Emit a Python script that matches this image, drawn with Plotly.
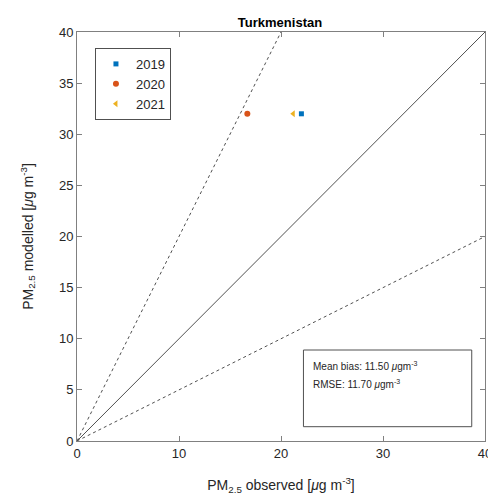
import plotly.graph_objects as go

years = ["2019", "2020", "2021"]
observed = [22.0, 16.7, 21.2]
modelled = [32.0, 32.0, 32.0]
colors = ["#0072BD", "#D95319", "#EDB120"]
symbols = ["square", "circle", "triangle-left"]
sizes = [5, 6, 6]

ref_x = [0, 40]
ref_1to1 = [0, 40]
ref_2x_x = [0, 20]
ref_2x_y = [0, 40]
ref_half_y = [0, 20]

stats_lines = ["Mean bias: 11.50 <i>μ</i>gm<sup>-3</sup>", "RMSE: 11.70 <i>μ</i>gm<sup>-3</sup>"]
ticks_x = [0, 10, 20, 30, 40]
ticks_y = [0, 5, 10, 15, 20, 25, 30, 35, 40]

fig = go.Figure()
fig.add_trace(go.Scatter(x=ref_x, y=ref_1to1, mode="lines", line=dict(color="#505050", width=1), showlegend=False, hoverinfo="skip"))
fig.add_trace(go.Scatter(x=ref_2x_x, y=ref_2x_y, mode="lines", line=dict(color="#505050", width=1, dash="dot"), showlegend=False, hoverinfo="skip"))
fig.add_trace(go.Scatter(x=ref_x, y=ref_half_y, mode="lines", line=dict(color="#505050", width=1, dash="dot"), showlegend=False, hoverinfo="skip"))

for yr, ox, my, c, s, sz in zip(years, observed, modelled, colors, symbols, sizes):
    fig.add_trace(go.Scatter(x=[ox], y=[my], mode="markers", name=yr,
                             marker=dict(color=c, symbol=s, size=sz, line=dict(width=0))))

fig.add_shape(type="rect", x0=22.2, x1=38.7, y0=1.4, y1=8.9, xref="x", yref="y",
              line=dict(color="#505050", width=1), fillcolor="white")
for i, t in enumerate(stats_lines):
    fig.add_annotation(x=22.9, y=7.3 - 1.75 * i, xref="x", yref="y", text=t, showarrow=False,
                       xanchor="left", yanchor="middle", font=dict(size=10, color="#262626"))

axis_common = dict(range=[0, 40], showgrid=False, zeroline=False, showline=True, linecolor="#808080",
                   linewidth=1, mirror="ticks", ticks="inside", ticklen=5, tickcolor="#808080",
                   tickfont=dict(size=13, color="#262626"), ticklabeloverflow="allow", automargin=False)
fig.update_xaxes(**axis_common, tickvals=ticks_x,
                 title=dict(text="PM<sub>2.5</sub> observed [<i>μ</i>g m<sup>-3</sup>]", font=dict(size=14, color="#262626"), standoff=22))
fig.update_yaxes(**axis_common, tickvals=ticks_y,
                 title=dict(text="PM<sub>2.5</sub> modelled [<i>μ</i>g m<sup>-3</sup>]", font=dict(size=14, color="#262626"), standoff=22))

fig.update_layout(
    width=488, height=495,
    margin=dict(l=77, r=3, t=32, b=54),
    paper_bgcolor="white", plot_bgcolor="white",
    font=dict(family="Liberation Sans, Arial, sans-serif", color="#262626"),
    title=dict(text="<b>Turkmenistan</b>", x=(280) / 488, xanchor="center", y=1 - 22 / 495, yanchor="middle",
               font=dict(size=13, color="#000000")),
    legend=dict(x=0.044, y=0.961, xanchor="left", yanchor="top", bordercolor="#505050", borderwidth=1,
                bgcolor="white", font=dict(size=13, color="#262626"), tracegroupgap=0, itemwidth=30),
)

fig.write_html("out.html")
